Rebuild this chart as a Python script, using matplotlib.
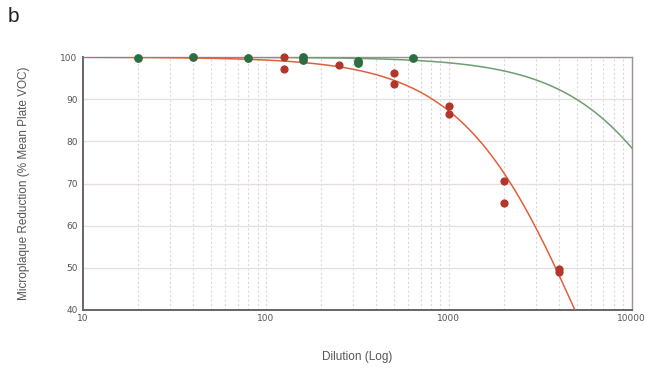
import numpy as np
import matplotlib
matplotlib.use("Agg")
import matplotlib.pyplot as plt
from matplotlib.ticker import LogLocator, FixedLocator, NullFormatter

# pontos medidos (diluicao, % reducao)
red_x = [125, 125, 250, 500, 500, 1000, 1000, 2000, 2000, 4000, 4000]
red_y = [100, 97.1, 98.0, 96.3, 93.5, 88.3, 86.6, 70.6, 65.4, 49.8, 49.1]
green_x = [20, 40, 80, 160, 160, 320, 320, 640]
green_y = [99.7, 100, 99.7, 100, 99.2, 98.6, 99.0, 99.8]

# parametros das curvas ajustadas (logistica 4 parametros)
red_ec50, red_hill, red_bottom = 5500, 1.3, -30
green_ec50, green_hill, green_bottom = 27000, 1.3, 0

def curva(x, ec50, hill, bottom):
    return bottom + (100 - bottom) / (1 + (x / ec50) ** hill)

fig = plt.figure(figsize=(6.46, 3.73), dpi=100)
ax = fig.add_axes([0.1285, 0.169, 0.8495, 0.678])

xs = np.logspace(1, 4, 400)
ax.plot(xs, curva(xs, green_ec50, green_hill, green_bottom), color="#6f9d6f", lw=1.1, zorder=3)
ax.plot(xs, curva(xs, red_ec50, red_hill, red_bottom), color="#e0603c", lw=1.1, zorder=3)
ax.scatter(green_x, green_y, s=28, color="#2b6e40", zorder=4, clip_on=False)
ax.scatter(red_x, red_y, s=24, color="#b3362a", zorder=4, clip_on=False)

ax.set_xscale("log")
ax.set_xlim(10, 10000)
ax.set_ylim(40, 100)
ax.xaxis.set_major_locator(FixedLocator([10, 100, 1000, 10000]))
ax.xaxis.set_minor_locator(LogLocator(base=10, subs=np.arange(2, 10)))
ax.xaxis.set_minor_formatter(NullFormatter())
ax.set_xticks([10, 100, 1000, 10000])
ax.set_xticklabels(["10", "100", "1000", "10000"])
ax.set_yticks([40, 50, 60, 70, 80, 90, 100])

ax.grid(True, which="both", axis="x", color="#e3d6d6", lw=0.8, ls=(0, (2, 2)))
ax.grid(True, which="major", axis="y", color="#e6dede", lw=0.9)
ax.set_axisbelow(True)

ax.tick_params(which="both", length=0, labelsize=6.5, labelcolor="#555555")
ax.tick_params(axis="y", pad=4)
ax.tick_params(axis="x", pad=3)

for lado in ["left", "bottom"]:
    ax.spines[lado].set_color("#6b6363")
    ax.spines[lado].set_linewidth(1.4)
for lado in ["right", "top"]:
    ax.spines[lado].set_color("#9a9090")
    ax.spines[lado].set_linewidth(1.0)

ax.set_xlabel("Dilution (Log)", fontsize=8.5, color="#555555", labelpad=20,
              family="Liberation Sans")
ax.set_ylabel("Microplaque Reduction (% Mean Plate VOC)", fontsize=8.5,
              color="#555555", labelpad=22, family="Liberation Sans")

fig.text(0.012, 0.955, "b", fontsize=15, color="#222222", va="center",
         family="Liberation Sans")

fig.savefig("out.png", dpi=100)
